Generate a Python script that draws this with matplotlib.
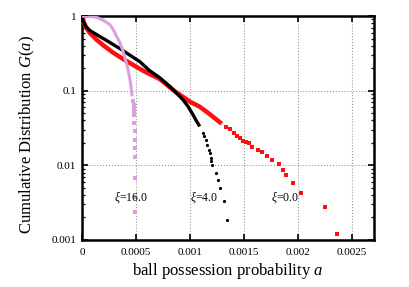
import matplotlib
matplotlib.use('Agg')
import matplotlib.pyplot as plt
from matplotlib.ticker import FixedLocator, FixedFormatter, LogLocator, NullFormatter

plt.rcParams['font.family'] = 'Liberation Serif'
plt.rcParams['mathtext.fontset'] = 'custom'
plt.rcParams['mathtext.rm'] = 'Liberation Serif'
plt.rcParams['mathtext.it'] = 'Liberation Serif:italic'

# xi = 0.0 (red)
red_band_a = [0, 1.2e-5, 3.7e-5, 7.4e-5, 1.36e-4, 2.12e-4, 2.86e-4, 3.64e-4, 4.43e-4, 5.17e-4,
              5.97e-4, 6.6e-4, 7.2e-4, 8.12e-4, 8.72e-4, 9.32e-4, 1.0e-3, 1.089e-3, 1.17e-3,
              1.245e-3, 1.292e-3]
red_band_G = [1.0, 0.86, 0.70, 0.59, 0.48, 0.39, 0.325, 0.275, 0.235, 0.203,
              0.175, 0.158, 0.143, 0.111, 0.095, 0.083, 0.071, 0.061, 0.050,
              0.041, 0.0361]
red_tail_a = [1.328e-3, 1.365e-3, 1.402e-3, 1.430e-3, 1.458e-3, 1.485e-3, 1.515e-3, 1.541e-3,
              1.577e-3, 1.624e-3, 1.661e-3, 1.716e-3, 1.762e-3, 1.827e-3, 1.863e-3, 1.891e-3,
              1.956e-3, 2.030e-3, 2.251e-3, 2.362e-3]
red_tail_G = [0.0329, 0.0309, 0.0273, 0.0249, 0.0230, 0.0213, 0.0205, 0.0197,
              0.0177, 0.0161, 0.0149, 0.0134, 0.0119, 0.0105, 0.0087, 0.0075,
              0.0058, 0.0043, 0.0028, 0.0012]

# xi = 4.0 (black)
blk_band_a = [0, 9e-6, 3.7e-5, 7.4e-5, 1.66e-4, 2.6e-4, 3.51e-4, 4.4e-4, 5.35e-4, 6.27e-4,
              7.2e-4, 8.12e-4, 8.74e-4, 9.34e-4, 9.81e-4, 1.027e-3, 1.052e-3, 1.089e-3]
blk_band_G = [1.0, 0.87, 0.723, 0.639, 0.531, 0.441, 0.366, 0.301, 0.245, 0.185,
              0.149, 0.114, 0.093, 0.0757, 0.0615, 0.0476, 0.0408, 0.0332]
blk_tail_a = [1.116e-3, 1.13e-3, 1.144e-3, 1.158e-3, 1.172e-3, 1.18e-3, 1.190e-3, 1.196e-3,
              1.202e-3, 1.236e-3, 1.257e-3, 1.280e-3, 1.313e-3, 1.344e-3]
blk_tail_G = [0.0273, 0.0245, 0.022, 0.019, 0.0161, 0.0145, 0.0126, 0.0114,
              0.0102, 0.00785, 0.00638, 0.00494, 0.00334, 0.00185]

# xi = 16.0 (violet)
vio_band_a = [0, 5.5e-5, 1.0e-4, 1.36e-4, 1.96e-4, 2.58e-4, 2.89e-4, 3.2e-4, 3.51e-4, 3.75e-4,
              3.97e-4, 4.27e-4, 4.49e-4, 4.64e-4]
vio_band_G = [1.0, 0.99, 0.98, 0.96, 0.88, 0.769, 0.659, 0.536, 0.437, 0.355,
              0.275, 0.191, 0.127, 0.084]
vio_tail_a = [4.76e-4, 4.78e-4, 4.8e-4, 4.8e-4, 4.82e-4, 4.84e-4, 4.86e-4, 4.88e-4,
              4.9e-4, 4.9e-4, 4.9e-4, 4.9e-4, 4.9e-4]
vio_tail_G = [0.0718, 0.0649, 0.0586, 0.0527, 0.0476, 0.0368, 0.0284, 0.0220,
              0.0170, 0.0131, 0.0067, 0.0038, 0.0024]

xticks = [0, 0.0005, 0.001, 0.0015, 0.002, 0.0025]
xtick_labels = ['0', '0.0005', '0.001', '0.0015', '0.002', '0.0025']
yticks = [0.001, 0.01, 0.1, 1]
ytick_labels = ['0.001', '0.01', '0.1', '1']

fig = plt.figure(figsize=(4.09, 2.87), dpi=100)
ax = fig.add_axes([0.2005, 0.164, 0.7135, 0.780])

red = '#ff1010'
violet = '#dd9fdd'

ax.plot(red_band_a, red_band_G, '-', color=red, lw=3.2, solid_capstyle='butt', zorder=3)
ax.plot(red_tail_a, red_tail_G, 's', color=red, ms=2.4, mew=0, zorder=3)
ax.plot(blk_band_a, blk_band_G, '-', color='black', lw=2.4, solid_capstyle='butt', zorder=4)
ax.plot(blk_tail_a, blk_tail_G, 'o', color='black', ms=2.3, mew=0, zorder=4)
ax.plot(vio_band_a, vio_band_G, '-', color=violet, lw=2.2, solid_capstyle='butt', zorder=5)
ax.plot(vio_tail_a, vio_tail_G, 's', color=violet, ms=2.3, mew=0, zorder=5)

ax.set_yscale('log')
ax.set_xlim(0, 0.0027)
ax.set_ylim(0.001, 1)

ax.xaxis.set_major_locator(FixedLocator(xticks))
ax.xaxis.set_major_formatter(FixedFormatter(xtick_labels))
ax.yaxis.set_major_locator(FixedLocator(yticks))
ax.yaxis.set_major_formatter(FixedFormatter(ytick_labels))
ax.yaxis.set_minor_locator(LogLocator(base=10, subs=range(2, 10)))
ax.yaxis.set_minor_formatter(NullFormatter())

ax.tick_params(which='both', direction='in', top=True, right=True, labelsize=8, colors='black')
ax.tick_params(which='major', length=4, width=1.2)
ax.tick_params(which='minor', length=2.5, width=0.9)
ax.tick_params(axis='x', pad=6)
ax.tick_params(axis='y', pad=4)

for s in ax.spines.values():
    s.set_linewidth(1.8)

ax.grid(True, which='major', linestyle=':', color='#999999', linewidth=0.8)

ax.set_xlabel(r'ball possession probability $a$', fontsize=12, labelpad=3)
ax.set_ylabel(r'Cumulative Distribution $G(a)$', fontsize=12, labelpad=4)
ax.yaxis.set_label_coords(-0.155, 0.47)

ax.text(0.000452, 0.0038, r'$\xi$=16.0', fontsize=8.5, ha='center', va='center', zorder=6)
ax.text(0.001125, 0.0038, r'$\xi$=4.0', fontsize=8.5, ha='center', va='center', zorder=6)
ax.text(0.00188, 0.0038, r'$\xi$=0.0', fontsize=8.5, ha='center', va='center', zorder=6)

fig.savefig('out.png', dpi=100)
